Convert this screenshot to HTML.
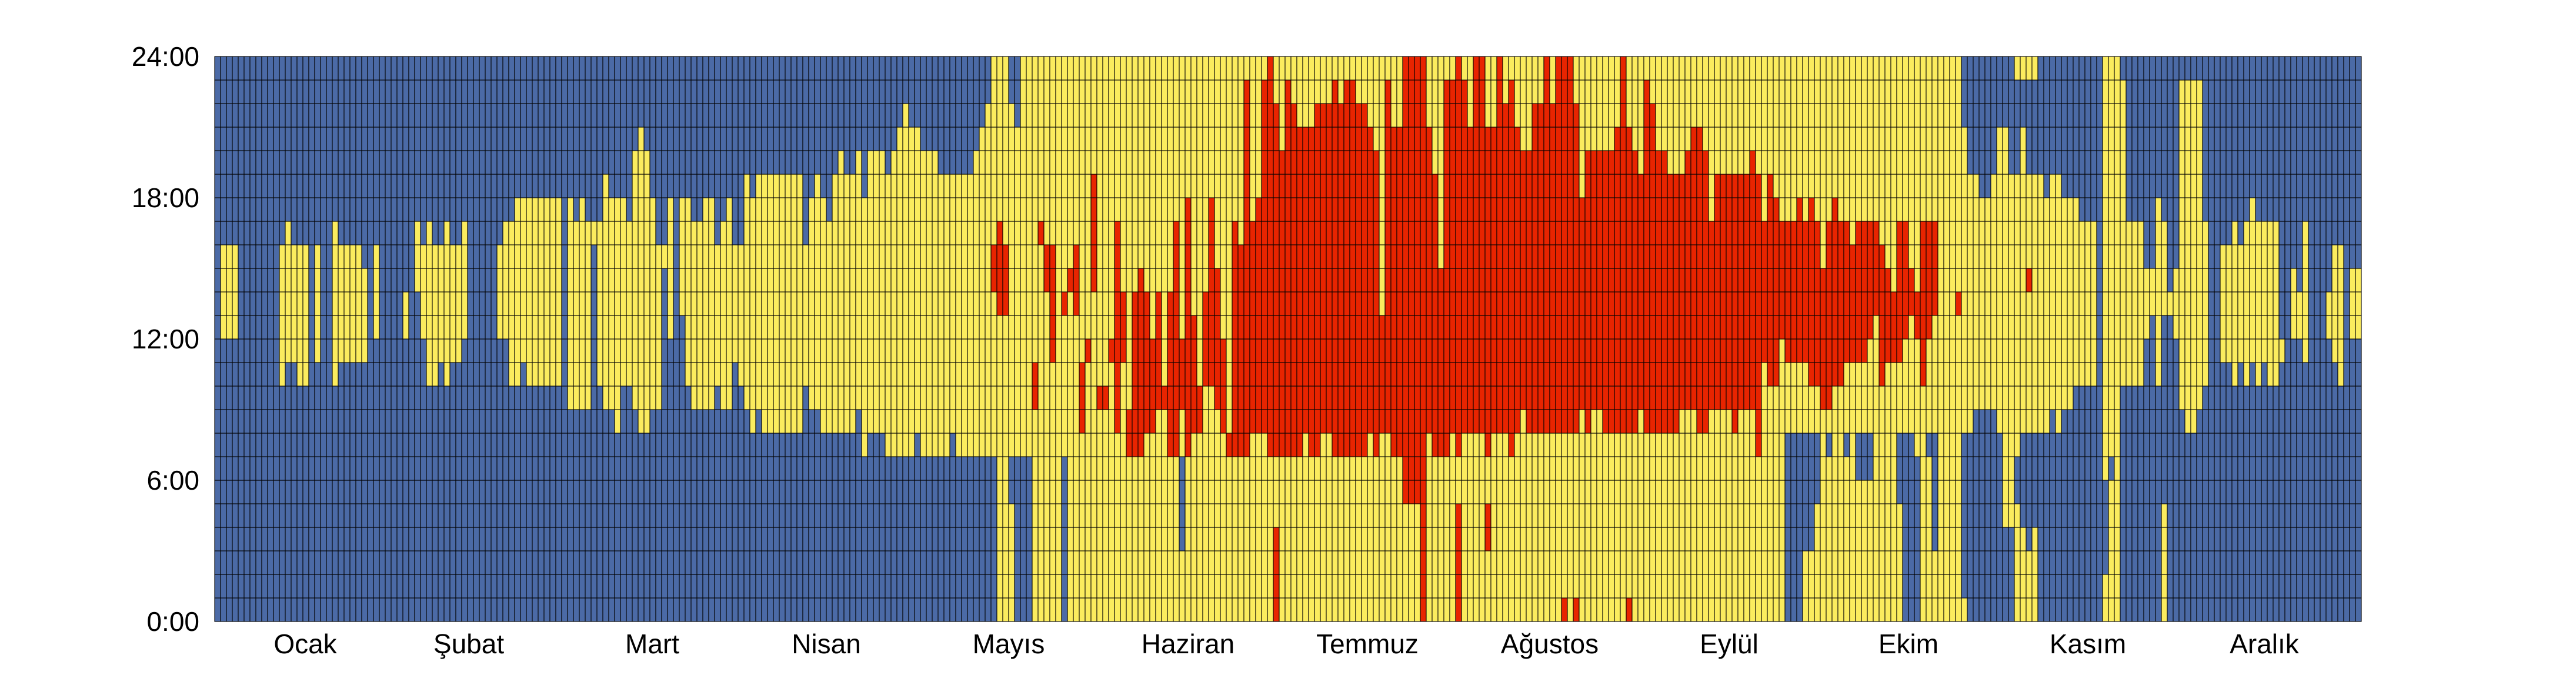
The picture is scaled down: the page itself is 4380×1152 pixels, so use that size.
<!DOCTYPE html>
<html><head><meta charset="utf-8"><style>
html,body{margin:0;padding:0;background:#fff;width:4380px;height:1152px;overflow:hidden}
text{font-family:"Liberation Sans",sans-serif;fill:#000}
</style></head><body>
<svg id="chart" width="4380" height="1152" xmlns="http://www.w3.org/2000/svg">
<g id="cells"></g>
<g id="yaxis"></g>
<g id="xaxis"></g>
</svg>
<script>
const yellowStart = [
0,12,12,12,0,0,0,0,0,0,
0,10,11,11,10,10,0,11,0,0,
10,11,11,11,11,11,0,12,0,0,
0,0,12,0,14,12,10,10,11,10,
11,11,12,0,0,0,0,0,12,12,
10,10,11,10,10,10,10,10,10,0,
9,9,9,9,16,10,9,9,8,10,
10,9,8,8,9,9,15,12,0,13,
10,9,9,9,9,10,9,9,11,10,
9,8,9,8,8,8,8,8,8,8,
10,9,9,8,8,8,8,8,8,9,
7,8,8,8,7,7,7,7,7,8,
7,7,7,7,7,8,7,7,7,7,
7,7,7,0,0,0,7,7,7,0,
0,0,0,0,7,0,0,0,0,0,
0,0,0,0,0,0,0,0,0,0,
0,0,0,0,0,0,0,0,0,0,
0,0,0,0,0,0,0,0,0,0,
0,0,0,0,0,0,0,0,0,0,
0,0,0,0,0,0,0,0,0,0,
0,0,0,0,0,0,0,0,0,0,
0,0,0,0,0,0,0,0,0,0,
0,0,0,0,0,0,0,0,0,0,
0,0,0,0,0,0,0,0,0,0,
0,0,0,0,0,0,0,0,0,0,
0,0,0,0,0,0,0,0,0,0,
0,0,0,0,0,0,0,8,8,8,
0,0,0,0,0,0,0,0,0,0,
0,0,0,0,0,0,0,8,8,7,
0,0,0,0,0,0,0,8,8,9,
9,9,9,8,4,4,0,8,8,8,
8,8,9,8,9,9,10,10,10,10,
0,6,0,0,10,10,10,10,12,13,
10,13,13,12,9,8,8,9,10,0,
0,11,11,10,11,10,11,10,11,10,
10,11,0,12,12,11,0,0,0,12,
11,10,0,12,12];
const yellowEnd = [
0,16,16,16,0,0,0,0,0,0,
0,16,17,16,16,16,0,16,0,0,
17,16,16,16,16,15,0,16,0,0,
0,0,14,0,17,16,17,16,16,17,
16,16,17,0,0,0,0,0,16,17,
17,18,18,18,18,18,18,18,18,0,
18,17,18,17,17,17,19,18,18,18,
17,20,21,20,18,16,16,18,0,18,
18,17,17,18,18,16,17,18,16,16,
19,18,19,19,19,19,19,19,19,19,
16,18,19,18,17,19,20,19,19,20,
18,20,20,20,19,20,21,22,21,21,
20,20,20,19,19,19,19,19,19,20,
21,22,24,24,24,22,21,24,24,24,
24,24,24,24,24,24,24,24,24,24,
24,24,24,24,24,24,24,24,24,24,
24,24,24,24,24,24,24,24,24,24,
24,24,24,24,24,24,24,24,24,24,
24,24,24,24,24,24,24,24,24,24,
24,24,24,24,24,24,24,24,24,24,
24,24,24,24,24,24,24,24,24,24,
24,24,24,24,24,24,24,24,24,24,
24,24,24,24,24,24,24,24,24,24,
24,24,24,24,24,24,24,24,24,24,
24,24,24,24,24,24,24,24,24,24,
24,24,24,24,24,24,24,24,24,24,
24,24,24,24,24,24,24,24,24,24,
24,24,24,24,24,24,24,24,24,24,
24,24,24,24,24,24,24,24,24,24,
24,24,24,24,24,24,24,21,19,19,
18,18,19,21,21,19,19,21,19,19,
19,18,19,19,18,18,18,17,17,17,
0,24,24,24,23,17,17,17,15,15,
18,17,14,15,23,23,23,23,17,0,
0,16,16,17,16,17,18,17,17,17,
17,12,0,15,14,17,0,0,0,14,
16,16,0,15,15];
const redStart = [
0,0,0,0,0,0,0,0,0,0, 0,0,0,0,0,0,0,0,0,0,
0,0,0,0,0,0,0,0,0,0, 0,0,0,0,0,0,0,0,0,0,
0,0,0,0,0,0,0,0,0,0, 0,0,0,0,0,0,0,0,0,0,
0,0,0,0,0,0,0,0,0,0, 0,0,0,0,0,0,0,0,0,0,
0,0,0,0,0,0,0,0,0,0, 0,0,0,0,0,0,0,0,0,0,
0,0,0,0,0,0,0,0,0,0, 0,0,0,0,0,0,0,0,0,0,
0,0,0,0,0,0,0,0,0,0,
0,0,14,13,13,0,0,0,0,9,
16,14,11,0,13,14,13,8,11,14,
9,9,11,8,11,7,7,7,8,8,
9,9,7,7,9,7,8,8,10,10,
9,8,7,7,7,7,8,8,8,7,
7,7,7,7,7,8,7,7,8,8,
7,7,7,7,7,7,8,7,8,8,
7,7,5,5,5,0,8,7,7,7,
8,7,8,8,8,8,8,8,8,8,
7,8,9,8,8,8,8,8,8,8,
8,8,9,8,9,9,8,8,8,8,
8,8,9,8,8,8,8,8,8,9,
9,9,8,8,9,9,9,9,8,9,
9,9,7,11,10,10,12,11,11,11,
11,10,10,9,9,10,10,11,11,11,
11,12,13,10,11,11,11,12,13,12,
10,12,13,0,0,0,13,0,0,0,
0,0,0,0,0,0,0,0,14,0,
0,0,0,0,0,0,0,0,0,0, 0,0,0,0,0,0,0,0,0,0,
0,0,0,0,0,0,0,0,0,0, 0,0,0,0,0,0,0,0,0,0,
0,0,0,0,0,0,0,0,0,0, 0,0,0,0,0];
const redEnd = [
0,0,0,0,0,0,0,0,0,0, 0,0,0,0,0,0,0,0,0,0,
0,0,0,0,0,0,0,0,0,0, 0,0,0,0,0,0,0,0,0,0,
0,0,0,0,0,0,0,0,0,0, 0,0,0,0,0,0,0,0,0,0,
0,0,0,0,0,0,0,0,0,0, 0,0,0,0,0,0,0,0,0,0,
0,0,0,0,0,0,0,0,0,0, 0,0,0,0,0,0,0,0,0,0,
0,0,0,0,0,0,0,0,0,0, 0,0,0,0,0,0,0,0,0,0,
0,0,0,0,0,0,0,0,0,0,
0,0,16,17,16,0,0,0,0,11,
17,16,16,0,14,15,16,11,12,19,
10,10,12,17,14,9,14,15,14,12,
14,10,14,17,12,18,13,10,14,18,
15,12,8,17,16,23,17,18,23,24,
22,20,23,22,21,21,21,22,22,22,
23,22,23,23,22,22,21,20,13,23,
21,21,24,24,24,24,21,19,15,23,
23,24,23,21,24,24,21,21,24,22,
23,21,20,20,22,22,24,22,24,24,
24,22,18,20,20,20,20,20,21,24,
21,20,19,23,22,20,20,19,19,19,
20,21,21,20,17,19,19,19,19,19,
19,20,19,17,19,18,17,17,17,18,
17,18,17,15,17,18,17,17,16,17,
17,17,17,16,15,14,17,17,15,14,
17,17,17,0,0,0,14,0,0,0,
0,0,0,0,0,0,0,0,15,0,
0,0,0,0,0,0,0,0,0,0, 0,0,0,0,0,0,0,0,0,0,
0,0,0,0,0,0,0,0,0,0, 0,0,0,0,0,0,0,0,0,0,
0,0,0,0,0,0,0,0,0,0, 0,0,0,0,0];
const patchDays   = [180,211,216,216,229,231,240,135,164,270,271,272,274,277,279,280,281,286,291,292,297,306,307,308,309,306,307,308,309,321,322,331];
const patchStart  = [0,0,3,7,0,0,0,5,3,3,3,5,7,7,6,6,6,5,7,3,0,5,0,0,0,23,23,23,23,0,6,0];
const patchEnd    = [4,5,5,8,1,1,1,7,7,8,8,8,8,8,8,8,8,8,8,8,1,7,4,3,4,24,24,24,24,2,7,5];
const patchColor  = ['R','R','R','R','R','R','R','B','B','B','B','B','B','B','B','B','B','B','B','B','Y','B','Y','Y','Y','Y','Y','Y','Y','Y','B','Y'];
const monthLabels = ['Ocak','Şubat','Mart','Nisan','Mayıs','Haziran','Temmuz','Ağustos','Eylül','Ekim','Kasım','Aralık'];
const monthCenterDays = [15.4,43.2,74.4,104,135,165.5,196,227,257.5,288,318.5,348.5];
const hourTicks = [0,6,12,18,24];
const hourTickLabels = ['0:00','6:00','12:00','18:00','24:00'];

const NS='http://www.w3.org/2000/svg';
const X0=365, Y0=96, DW=10, HH=40;
const xOf = d => X0 + d*DW;
const yOf = h => Y0 + (24-h)*HH;
const COLORS={B:'#4b6aa6',Y:'#fbec5e',R:'#e82400'};

const grid=[];
for(let d=0; d<365; d++){
  const col=[];
  for(let h=0; h<24; h++){
    let c='B';
    if(h>=yellowStart[d] && h<yellowEnd[d]) c='Y';
    if(h>=redStart[d] && h<redEnd[d]) c='R';
    col.push(c);
  }
  grid.push(col);
}
for(let i=0;i<patchDays.length;i++){
  for(let h=patchStart[i]; h<patchEnd[i]; h++) grid[patchDays[i]][h]=patchColor[i];
}
const cells=document.getElementById('cells');
let frag=document.createDocumentFragment();
for(let d=0; d<365; d++){
  for(let h=0; h<24; h++){
    const r=document.createElementNS(NS,'rect');
    r.setAttribute('x', xOf(d));
    r.setAttribute('y', yOf(h+1));
    r.setAttribute('width', DW);
    r.setAttribute('height', HH);
    r.setAttribute('fill', COLORS[grid[d][h]]);
    r.setAttribute('stroke', '#000');
    r.setAttribute('stroke-width', '1.1');
    
    
    frag.appendChild(r);
  }
}
cells.appendChild(frag);

const yaxis=document.getElementById('yaxis');
for(let i=0;i<hourTicks.length;i++){
  const t=document.createElementNS(NS,'text');
  t.setAttribute('x', 339);
  t.setAttribute('y', yOf(hourTicks[i])+16);
  t.setAttribute('text-anchor','end');
  t.setAttribute('font-size','46');
  t.textContent=hourTickLabels[i];
  
  
  yaxis.appendChild(t);
}
const xaxis=document.getElementById('xaxis');
for(let i=0;i<monthLabels.length;i++){
  const t=document.createElementNS(NS,'text');
  t.setAttribute('x', xOf(monthCenterDays[i]));
  t.setAttribute('y', 1110);
  t.setAttribute('text-anchor','middle');
  t.setAttribute('font-size','46');
  t.textContent=monthLabels[i];
  
  
  xaxis.appendChild(t);
}
</script>
</body></html>
